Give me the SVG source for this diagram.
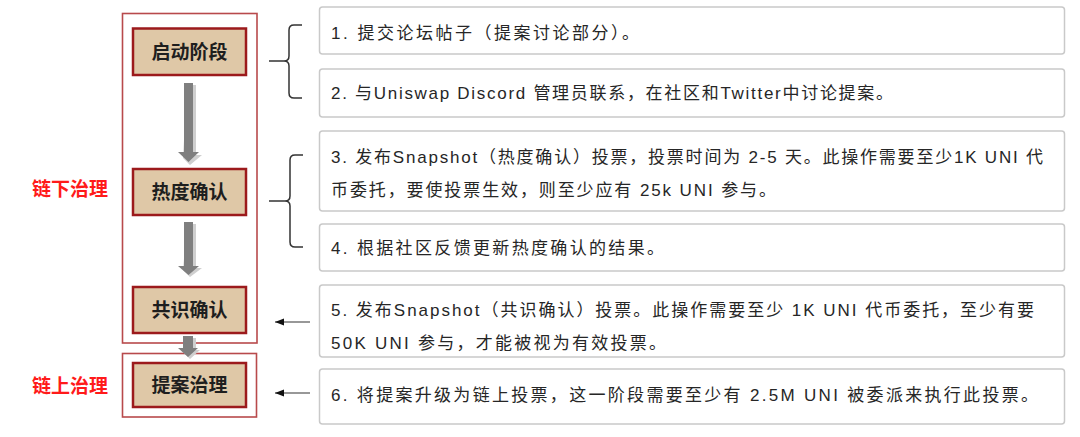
<svg xmlns="http://www.w3.org/2000/svg" width="1080" height="437" viewBox="0 0 1080 437">
<defs>
<style>
.grp{fill:none;stroke:#b84a4c;stroke-width:1.6}
.node rect{fill:#dfc8a7;stroke:#9c1a1c;stroke-width:2.5}
.node text{font-family:"Noto Sans CJK SC",sans-serif;font-weight:bold;font-size:19px;fill:#1e1e1e;text-anchor:middle}
.lbl{font-family:"Noto Sans CJK SC",sans-serif;font-weight:bold;font-size:19px;fill:#ff1a1a;text-anchor:middle}
.card rect{fill:#ffffff;stroke:#c9c9c9;stroke-width:1.5}
.card text{font-family:"Liberation Sans","Noto Sans CJK SC",sans-serif;font-size:17px;fill:#262626}
.brace{fill:none;stroke:#333;stroke-width:1.5}
.thin{stroke:#333;stroke-width:1.1;fill:none}
.big{fill:#7f7f7f}
.bigsh{fill:#cfcfcf}
</style>
<marker id="ah" viewBox="0 0 10 8" refX="10" refY="4" markerWidth="9" markerHeight="7.2" orient="auto" markerUnits="userSpaceOnUse">
<path d="M0,0 L10,4 L0,8 Z" fill="#111"/>
</marker>
</defs>
<rect width="1080" height="437" fill="#ffffff"/>

<g id="groups">
<rect class="grp" x="122.5" y="13.5" width="134.5" height="329.5"/>
<rect class="grp" x="122.5" y="353.5" width="134" height="63.5"/>
<text class="lbl" x="70" y="196">链下治理</text>
<text class="lbl" x="70" y="393">链上治理</text>
</g>

<g id="connectors">
<g id="bigarrow1">
<path class="bigsh" d="M187,85 H196 V155 H202 L190,165 L183,158 Z"/>
<path class="big" d="M184,83 H193 V152 H199 L188.5,162 L178,152 H184 Z"/>
</g>
<g id="bigarrow2">
<path class="bigsh" d="M187,224 H196 V268 H202 L190,277 L183,270 Z"/>
<path class="big" d="M184,222 H193 V266 H199 L188.5,275 L178,266 H184 Z"/>
</g>
<g id="bigarrow3">
<path class="bigsh" d="M186,338 H196 V350 H200 L190,359 L183,352 Z"/>
<path class="big" d="M183,336 H193 V348 H198 L188,357 L178,348 H183 Z"/>
</g>
<path class="brace" d="M302,25 H294 Q289,25 289,30 V56 Q289,61 284,61 H269 M284,61 Q289,61 289,66 V93 Q289,98 294,98 H302"/>
<path class="brace" d="M303,155 H295 Q290,155 290,160 V196 Q290,201 285,201 H269 M285,201 Q290,201 290,206 V242 Q290,247 295,247 H303"/>
<line class="thin" x1="310" y1="322" x2="275" y2="322" marker-end="url(#ah)"/>
<line class="thin" x1="310" y1="393" x2="275" y2="393" marker-end="url(#ah)"/>
</g>

<g id="node-start" class="node"><rect x="133" y="28.5" width="113" height="46.5"/><text x="189.5" y="59">启动阶段</text></g>
<g id="node-heat" class="node"><rect x="133" y="169" width="113" height="46"/><text x="189.5" y="199">热度确认</text></g>
<g id="node-consensus" class="node"><rect x="133" y="287" width="113" height="46"/><text x="189.5" y="317">共识确认</text></g>
<g id="node-proposal" class="node"><rect x="133" y="363" width="113" height="44"/><text x="189.5" y="392">提案治理</text></g>

<g id="card1" class="card"><rect x="319.5" y="7" width="745" height="47" rx="3"/><text x="331" y="39" textLength="308" lengthAdjust="spacing">1. 提交论坛帖子（提案讨论部分）。</text></g>
<g id="card2" class="card"><rect x="319.5" y="69" width="745" height="48" rx="3"/><text x="331" y="99" textLength="562" lengthAdjust="spacing">2. 与Uniswap Discord 管理员联系，在社区和Twitter中讨论提案。</text></g>
<g id="card3" class="card"><rect x="319.5" y="131" width="745" height="80" rx="3"/><text x="331" y="163" textLength="712" lengthAdjust="spacing">3. 发布Snapshot（热度确认）投票，投票时间为 2-5 天。此操作需要至少1K UNI 代</text><text x="331" y="196" textLength="445" lengthAdjust="spacing">币委托，要使投票生效，则至少应有 25k UNI 参与。</text></g>
<g id="card4" class="card"><rect x="319.5" y="224" width="745" height="47" rx="3"/><text x="331" y="254" textLength="333" lengthAdjust="spacing">4. 根据社区反馈更新热度确认的结果。</text></g>
<g id="card5" class="card"><rect x="319.5" y="285" width="745" height="72" rx="3"/><text x="331" y="316" textLength="703" lengthAdjust="spacing">5. 发布Snapshot（共识确认）投票。此操作需要至少 1K UNI 代币委托，至少有要</text><text x="331" y="349" textLength="335" lengthAdjust="spacing">50K UNI 参与，才能被视为有效投票。</text></g>
<g id="card6" class="card"><rect x="319.5" y="369" width="745" height="55" rx="3"/><text x="331" y="401" textLength="707" lengthAdjust="spacing">6. 将提案升级为链上投票，这一阶段需要至少有 2.5M UNI 被委派来执行此投票。</text></g>
</svg>
